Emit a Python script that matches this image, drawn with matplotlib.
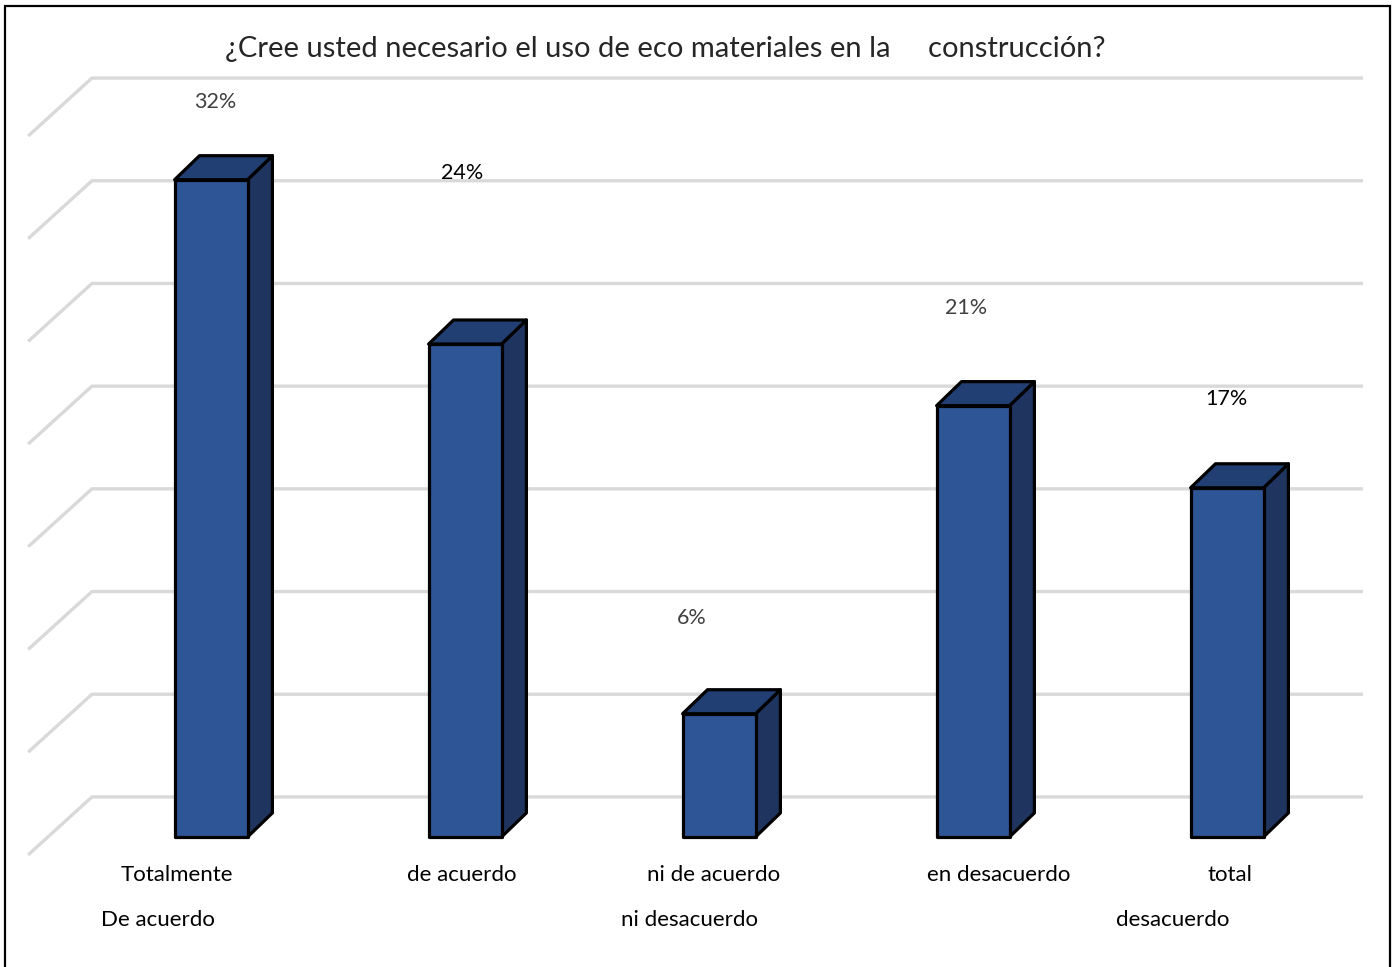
import matplotlib
matplotlib.use("Agg")
import matplotlib.pyplot as plt
from matplotlib.patches import Polygon, Rectangle

# Survey data
categories_line1 = ["Totalmente", "de acuerdo", "ni de acuerdo", "en desacuerdo", "total"]
categories_line2 = ["De acuerdo", "", "ni desacuerdo", "", "desacuerdo"]
values = [32, 24, 6, 21, 17]
value_labels = ["32%", "24%", "6%", "21%", "17%"]
title = "¿Cree usted necesario el uso de eco materiales en la     construcción?"
grid_levels = [0, 5, 10, 15, 20, 25, 30, 35]

# Layout (data units: x = category index, y = percent)
label_pos = [(0.016, 33.83), (0.988, 30.38), (1.894, 8.71), (2.972, 23.80), (3.996, 19.37)]
label_colors = ["#404040", "#000000", "#404040", "#404040", "#000000"]
line1_x = [-0.134, 0.988, 1.980, 3.102, 4.012]
line2_x = [-0.209, 0.988, 1.882, 3.102, 3.787]
FRONT = "#2E5596"
TOP = "#223F73"
SIDE = "#1F3560"
BAR_W = 0.287
DEPTH_X = 0.098
DEPTH_Y = 1.17
BASE = -1.95

FONT = ["Lato", "DejaVu Sans"]

fig = plt.figure(figsize=(13.98, 9.67), dpi=100)
ax = fig.add_axes([0, 0, 1, 1])
ax.set_xlim(-0.831, 4.673)
ax.set_ylim(-8.28, 38.80)
ax.axis("off")

# Back wall gridlines with the slanted side edge
for g in grid_levels:
    ax.plot([-0.72, -0.469, 4.535], [g - 2.82, g, g], color="#d9d9d9",
            lw=2.4, solid_capstyle="butt", zorder=1)

# 3D-looking bars
for i, v in enumerate(values):
    x0 = i - BAR_W / 2
    x1 = i + BAR_W / 2
    y0 = BASE
    y1 = BASE + v
    kw = dict(edgecolor="black", lw=2.3, joinstyle="round", zorder=3)
    ax.add_patch(Polygon([(x1, y0), (x1 + DEPTH_X, y0 + DEPTH_Y),
                          (x1 + DEPTH_X, y1 + DEPTH_Y), (x1, y1)],
                         facecolor=SIDE, **kw))
    ax.add_patch(Polygon([(x0, y1), (x0 + DEPTH_X, y1 + DEPTH_Y),
                          (x1 + DEPTH_X, y1 + DEPTH_Y), (x1, y1)],
                         facecolor=TOP, **kw))
    ax.add_patch(Rectangle((x0, y0), BAR_W, v, facecolor=FRONT, **kw))

# Value labels
for (lx, ly), txt, c in zip(label_pos, value_labels, label_colors):
    ax.text(lx, ly, txt, ha="center", va="center", fontsize=15.5,
            color=c, family=FONT)

# Category labels (two rows)
for x, t in zip(line1_x, categories_line1):
    ax.text(x, -3.80, t, ha="center", va="center", fontsize=16,
            color="black", family=FONT)
for x, t in zip(line2_x, categories_line2):
    if t:
        ax.text(x, -5.99, t, ha="center", va="center", fontsize=16,
                color="black", family=FONT)

# Title
ax.text(1.787, 36.41, title, ha="center", va="center", fontsize=21,
        color="#262626", family=FONT)

# Outer frame
fig.patches.append(Rectangle((5 / 1398, -0.01), 1385 / 1398, 1 - 6 / 967 + 0.01,
                             transform=fig.transFigure, fill=False,
                             edgecolor="black", lw=1.6))

fig.savefig("out.png", dpi=100, facecolor="white")
